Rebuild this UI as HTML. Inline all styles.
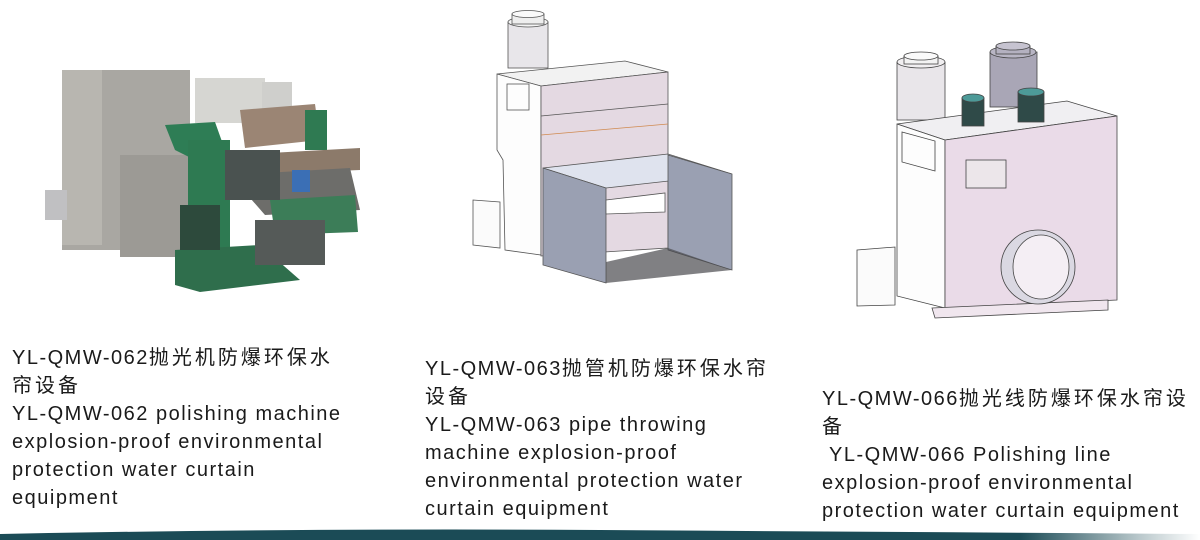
<!DOCTYPE html>
<html><head><meta charset="utf-8"><style>
html,body{margin:0;padding:0;background:#fff;}
body{width:1200px;height:540px;position:relative;overflow:hidden;font-family:"Liberation Sans","Noto Sans CJK SC",sans-serif;}
.t{position:absolute;font-size:20px;line-height:28px;color:#1a1a1a;letter-spacing:1.5px;white-space:nowrap;}
.c{letter-spacing:3px;}
svg{position:absolute;left:0;top:0;}
</style></head><body>
<svg width="1200" height="540" viewBox="0 0 1200 540">
<g>
<rect x="62" y="70" width="128" height="180" fill="#a9a7a2"/>
<rect x="62" y="70" width="40" height="175" fill="#b8b6b0"/>
<rect x="120" y="155" width="75" height="102" fill="#9c9a95"/>
<rect x="195" y="78" width="70" height="45" fill="#d6d6d2"/>
<rect x="262" y="82" width="30" height="28" fill="#cfcfcc"/>
<rect x="45" y="190" width="22" height="30" fill="#c0c0c2"/>
<polygon points="240,110 315,104 320,140 245,148" fill="#9b8574"/>
<rect x="305" y="110" width="22" height="40" fill="#2f7a52"/>
<polygon points="165,125 215,122 225,150 195,160 175,150" fill="#2e7d55"/>
<rect x="188" y="140" width="42" height="135" fill="#2e7a52"/>
<polygon points="235,155 360,148 360,170 240,175" fill="#8c7a6a"/>
<polygon points="230,175 350,168 360,210 265,215" fill="#6d6d6a"/>
<polygon points="270,200 355,195 358,232 275,235" fill="#3c7d58"/>
<polygon points="175,250 260,245 300,280 200,292 175,285" fill="#2f6e4c"/>
<rect x="255" y="220" width="70" height="45" fill="#555a58"/>
<rect x="225" y="150" width="55" height="50" fill="#4a5250"/>
<rect x="292" y="170" width="18" height="22" fill="#3b6fb5"/>
<rect x="180" y="205" width="40" height="45" fill="#2d4a3c"/>
</g>
<g stroke="#555" stroke-width="0.8">
<rect x="508" y="22" width="40" height="46" fill="#e8e6ea"/>
<ellipse cx="528" cy="22" rx="20" ry="5" fill="#f4f4f4"/>
<rect x="512" y="14" width="32" height="10" fill="#eee"/>
<ellipse cx="528" cy="14" rx="16" ry="3.5" fill="#fafafa"/>
<polygon points="497,74 625,61 668,72 541,86" fill="#f2f2f2"/>
<polygon points="497,74 541,86 541,255 505,250 503,160 497,150" fill="#fdfdfd"/>
<polygon points="541,86 668,72 668,248 541,256" fill="#e4d9e2"/>
<line x1="541" y1="116" x2="668" y2="104"/>
<line x1="541" y1="135" x2="668" y2="124" stroke="#d08a50"/>
<rect x="507" y="84" width="22" height="26" fill="none"/>
<polygon points="473,200 500,202 500,248 473,245" fill="#fbfbfb"/>
<polygon points="543,168 668,154 732,174 606,188" fill="#dfe3ee"/>
<polygon points="543,168 606,188 606,283 543,265" fill="#9aa0b2"/>
<polygon points="668,155 732,174 732,270 668,250" fill="#9aa0b2"/>
<polygon points="606,200 665,193 665,212 606,214" fill="#ffffff"/>
<polygon points="606,262 668,248 732,270 606,283" fill="#4a4a4e" stroke="none" opacity="0.7"/>
</g>
<g stroke="#444" stroke-width="0.8">
<rect x="897" y="62" width="48" height="58" fill="#e9e6ea"/>
<ellipse cx="921" cy="62" rx="24" ry="6" fill="#f1eff1"/>
<rect x="904" y="56" width="34" height="8" fill="#f3f3f3"/>
<ellipse cx="921" cy="56" rx="17" ry="4" fill="#fafafa"/>
<rect x="990" y="52" width="47" height="55" fill="#a9a6b6"/>
<ellipse cx="1013" cy="52" rx="23" ry="6" fill="#b8b5c4"/>
<rect x="996" y="46" width="34" height="8" fill="#b4b1c0"/>
<ellipse cx="1013" cy="46" rx="17" ry="4" fill="#c6c3d0"/>
<polygon points="897,124 1067,101 1117,116 945,140" fill="#f0eff2"/>
<rect x="962" y="98" width="22" height="28" fill="#2f4a48"/>
<ellipse cx="973" cy="98" rx="11" ry="4" fill="#4d9a98"/>
<rect x="1018" y="92" width="26" height="30" fill="#2f4a48"/>
<ellipse cx="1031" cy="92" rx="13" ry="4" fill="#4d9a98"/>
<polygon points="897,124 945,140 945,308 897,296" fill="#fdfdfd"/>
<polygon points="945,140 1117,116 1117,300 945,308" fill="#eadbe8"/>
<polygon points="902,132 935,141 935,171 902,162" fill="none"/>
<rect x="966" y="160" width="40" height="28" fill="#ece6ea"/>
<polygon points="857,250 895,247 895,305 857,306" fill="#fbfbfb"/>
<polygon points="932,308 1108,300 1108,310 935,318" fill="#f0e6ee"/>
<ellipse cx="1038" cy="267" rx="37" ry="37" fill="#dad8e2"/>
<ellipse cx="1041" cy="267" rx="28" ry="32" fill="#f4eef4"/>
</g>
<defs><linearGradient id="g" x1="0" x2="1"><stop offset="0" stop-color="#1b4b56"/><stop offset="0.85" stop-color="#1b4b56"/><stop offset="0.95" stop-color="#1b4b56" stop-opacity="0.3"/><stop offset="1" stop-color="#1b4b56" stop-opacity="0"/></linearGradient></defs>
<path d="M0,534 Q300,528 600,530 T1200,534 L1200,540 L0,540 Z" fill="url(#g)"/>
</svg>
<div class="t" style="left:12px;top:344px;">YL-QMW-062<span class="c">抛光机防爆环保水</span><br><span class="c">帘设备</span><br>YL-QMW-062 polishing machine<br>explosion-proof environmental<br>protection water curtain<br>equipment</div>
<div class="t" style="left:425px;top:355px;">YL-QMW-063<span class="c">抛管机防爆环保水帘</span><br><span class="c">设备</span><br>YL-QMW-063 pipe throwing<br>machine explosion-proof<br>environmental protection water<br>curtain equipment</div>
<div class="t" style="left:822px;top:385px;">YL-QMW-066<span class="c">抛光线防爆环保水帘设</span><br><span class="c">备</span><br>&nbsp;YL-QMW-066 Polishing line<br>explosion-proof environmental<br>protection water curtain equipment</div>
</body></html>
